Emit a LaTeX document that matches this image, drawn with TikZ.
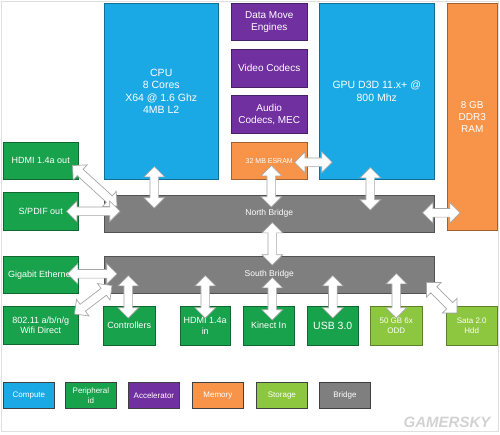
\documentclass[tikz,border=0pt]{standalone}
\usepackage{fontspec}
\setmainfont{Liberation Sans}
\usetikzlibrary{shapes.arrows,calc}

\definecolor{compute}{HTML}{1BA9E6}
\definecolor{periph}{HTML}{17A24B}
\definecolor{accel}{HTML}{7030A0}
\definecolor{memory}{HTML}{F7944A}
\definecolor{storage}{HTML}{8DC63F}
\definecolor{bridge}{HTML}{7F7F7F}

\newcommand{\fsz}[1]{\fontsize{#1}{\dimexpr #1pt*6/5\relax}\selectfont}

% two-headed block arrow between two points
\newcommand{\link}[2]{%
  \path let \p1=(#1), \p2=(#2), \n1={veclen(\x2-\x1,\y2-\y1)} in
    (\p1) -- (\p2) node[biarrow, midway, sloped, minimum height=\n1] {};}

\begin{document}
\begin{tikzpicture}[x=1pt,y=-1pt]
\tikzstyle{every node}=[font=\fsz{9}]
\tikzset{
  blk/.style={draw=#1!65!black, fill=#1, text=white, align=center,
    inner sep=1pt, anchor=north west, line width=0.5pt},
  key/.style={blk=#1, draw=black!75, line width=0.8pt, font=\fsz{8},
    minimum width=51, minimum height=26},
  biarrow/.style={double arrow, draw=gray!70, fill=white, line width=0.7pt,
    inner xsep=0pt, inner ysep=4pt, minimum width=0pt,
    double arrow head extend=6pt, double arrow head indent=0pt}
}
\useasboundingbox (0,0) rectangle (500,434);
\draw[gray!25] (1,1) rectangle (498,431);

% compute and accelerators
\node[blk=compute, minimum width=114, minimum height=176, font=\fsz{10.5}]
  (cpu) at (104,3) {CPU\\8 Cores\\X64 @ 1.6 Ghz\\4MB L2};
\node[blk=accel, minimum width=76, minimum height=37, font=\fsz{10}]
  (dme) at (231,3) {Data Move\\Engines};
\node[blk=accel, minimum width=76, minimum height=38, font=\fsz{10}]
  (video) at (231,49) {Video Codecs};
\node[blk=accel, minimum width=76, minimum height=38, font=\fsz{10}]
  (audio) at (231,95) {Audio\\Codecs, MEC};
\node[blk=memory, minimum width=76, minimum height=37, font=\fsz{7}]
  (esram) at (231,142) {32 MB ESRAM};
\node[blk=compute, minimum width=115, minimum height=176, font=\fsz{10.5}]
  (gpu) at (319,3) {GPU D3D 11.x+ @\\800 Mhz};
\node[blk=memory, minimum width=50, minimum height=227, font=\fsz{10}]
  (ram) at (447,3) {8 GB\\DDR3\\RAM};

% bridges
\node[blk=bridge, minimum width=330, minimum height=37, font=\fsz{8.5}]
  (nb) at (104,195) {North Bridge};
\node[blk=bridge, minimum width=330, minimum height=37, font=\fsz{8.5}]
  (sb) at (104,256) {South Bridge};

% peripherals on the left
\node[blk=periph, minimum width=75, minimum height=37] (hdmiout) at (3,142) {HDMI 1.4a out};
\node[blk=periph, minimum width=75, minimum height=38] (spdif) at (3,192) {S/PDIF out};
\node[blk=periph, minimum width=75, minimum height=37] (gbe) at (3,256) {Gigabit Ethernet};
\node[blk=periph, minimum width=75, minimum height=38] (wifi) at (3,306) {802.11 a/b/n/g\\Wifi Direct};

% peripherals and storage below
\node[blk=periph, minimum width=52, minimum height=39] (ctrl) at (103,306) {Controllers};
\node[blk=periph, minimum width=50, minimum height=39] (hdmiin) at (180,306) {HDMI 1.4a\\in};
\node[blk=periph, minimum width=51, minimum height=39] (kinect) at (243,306) {Kinect In};
\node[blk=periph, minimum width=51, minimum height=39, font=\fsz{10.5}] (usb) at (307,306) {USB 3.0};
\node[blk=storage, minimum width=52, minimum height=39, font=\fsz{8}] (odd) at (370,306) {50 GB 6x\\ODD};
\node[blk=storage, minimum width=51, minimum height=39, font=\fsz{8}] (sata) at (446,306) {Sata 2.0\\Hdd};

% links
\link{$(hdmiout.south east)+(-6,-14)$}{$(nb.north west)+(13,11)$}
\link{$(spdif.east)+(-12,0)$}{$(spdif.east -| nb.west)+(16,0)$}
\link{$(cpu.south)+(-7,-13)$}{$(cpu.south |- nb.north)+(-7,13)$}
\link{$(esram.south)+(2,-14)$}{$(esram.south |- nb.north)+(2,12)$}
\link{$(esram.east)+(-13,1.5)$}{$(esram.east -| gpu.west)+(13,1.5)$}
\link{$(gpu.south)+(-6.5,-12)$}{$(gpu.south |- nb.north)+(-6.5,15)$}
\link{$(nb.east)+(-12,-1)$}{$(nb.east -| ram.west)+(13,-1)$}
\link{$(nb.south)+(3,-10)$}{$(nb.south |- sb.north)+(3,9)$}
\link{$(gbe.east)+(-11,-1)$}{$(gbe.east -| sb.west)+(13,-1)$}
\link{$(wifi.north east)+(-4,8)$}{$(sb.south west)+(8,-8)$}
\link{$(ctrl.north)+(-1,12)$}{$(ctrl.north |- sb.south)+(-1,-18)$}
\link{$(hdmiin.north)+(0,12)$}{$(hdmiin.north |- sb.south)+(0,-18)$}
\link{$(kinect.north)+(3.5,14)$}{$(kinect.north |- sb.south)+(3.5,-16)$}
\link{$(usb.north)+(0,12)$}{$(usb.north |- sb.south)+(0,-18)$}
\link{$(odd.north)+(0,12)$}{$(odd.north |- sb.south)+(0,-20)$}
\link{$(sb.south east)+(-8,-11)$}{$(sata.north west)+(11,7)$}

% legend
\node[key=compute] (kcomp) at (3,382) {Compute};
\node[key=periph] (kper) at (65,382) {Peripheral\\id};
\node[key=accel] (kacc) at (128,382) {Accelerator};
\node[key=memory] (kmem) at (192,382) {Memory};
\node[key=storage] (ksto) at (256,382) {Storage};
\node[key=bridge] (kbri) at (319,382) {Bridge};

\node[font=\bfseries\itshape\fsz{15}, text=gray!35] (mark) at (447,422) {GAMERSKY};

\end{tikzpicture}
\end{document}
